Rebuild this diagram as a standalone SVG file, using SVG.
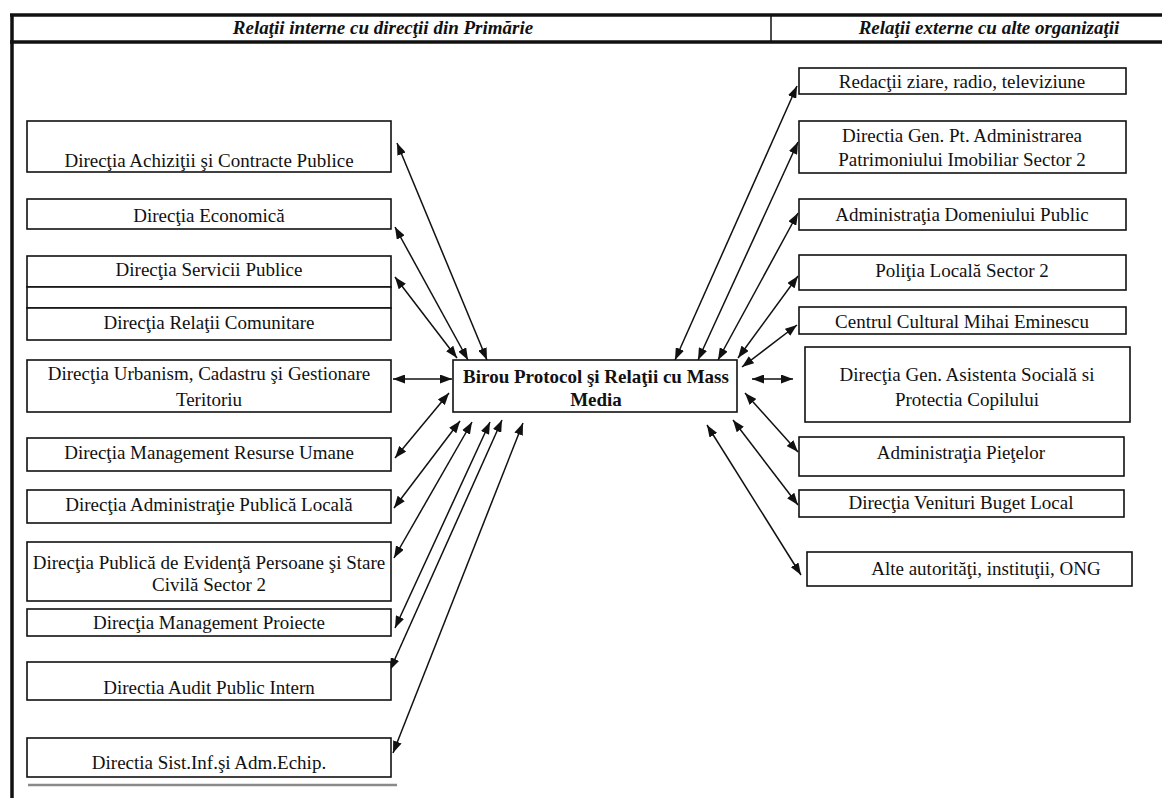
<svg xmlns="http://www.w3.org/2000/svg" width="1162" height="798" viewBox="0 0 1162 798">
<style>
.box{fill:#fff;stroke:#111;stroke-width:1.6}
.t{font-family:"Liberation Serif","Times New Roman",serif;font-size:19px;fill:#111;text-anchor:middle}
.c{font-family:"Liberation Serif","Times New Roman",serif;font-size:19px;font-weight:bold;fill:#111;text-anchor:middle}
.h{font-family:"Liberation Serif","Times New Roman",serif;font-size:19px;font-weight:bold;font-style:italic;fill:#111;text-anchor:middle}
.frame{stroke:#111;fill:none}
.arr{stroke:#111;stroke-width:1.5;fill:none;marker-start:url(#ah);marker-end:url(#ah)}
</style>
<defs>
<marker id="ah" markerUnits="userSpaceOnUse" markerWidth="13" markerHeight="9" refX="12" refY="4.5" orient="auto-start-reverse">
<path d="M0,0 L12,4.5 L0,9 z" fill="#111"/>
</marker>
</defs>
<rect width="1162" height="798" fill="#fff"/>
<g id="frame">
<line class="frame" x1="10" y1="15" x2="1162" y2="15" stroke-width="3.5"/>
<line class="frame" x1="10" y1="42" x2="1162" y2="42" stroke-width="3.5"/>
<line class="frame" x1="12" y1="14" x2="12" y2="798" stroke-width="3.5"/>
<line class="frame" x1="771" y1="15" x2="771" y2="42" stroke-width="1.5"/>
<line x1="28" y1="785" x2="397" y2="785" stroke="#8a8a8a" stroke-width="2.5"/>
<text class="h" x="383" y="34">Relaţii interne cu direcţii din Primărie</text>
<text class="h" x="989" y="34">Relaţii externe cu alte organizaţii</text>
</g>
<g id="connectors">
<line class="arr" x1="487" y1="360" x2="397" y2="143"/>
<line class="arr" x1="468" y1="360" x2="395" y2="227"/>
<line class="arr" x1="457" y1="358" x2="395" y2="277"/>
<line class="arr" x1="452" y1="379" x2="393" y2="379"/>
<line class="arr" x1="449" y1="393" x2="395" y2="458"/>
<line class="arr" x1="460" y1="421" x2="394" y2="508"/>
<line class="arr" x1="472" y1="422" x2="394" y2="558"/>
<line class="arr" x1="490" y1="422" x2="395" y2="628"/>
<line class="arr" x1="502" y1="420" x2="390" y2="670"/>
<line class="arr" x1="523" y1="423" x2="393" y2="753"/>
<line class="arr" x1="675" y1="360" x2="797" y2="86"/>
<line class="arr" x1="698" y1="360" x2="798" y2="142"/>
<line class="arr" x1="718" y1="360" x2="798" y2="213"/>
<line class="arr" x1="738" y1="358" x2="798" y2="276"/>
<line class="arr" x1="742" y1="367" x2="797" y2="325"/>
<line class="arr" x1="752" y1="379" x2="793" y2="379"/>
<line class="arr" x1="745" y1="393" x2="798" y2="452"/>
<line class="arr" x1="733" y1="420" x2="798" y2="505"/>
<line class="arr" x1="707" y1="425" x2="801" y2="575"/>
</g>
<g id="center">
<rect class="box" x="453" y="360" width="284" height="52"/>
<text class="c" x="596" y="383">Birou Protocol şi Relaţii cu Mass</text>
<text class="c" x="596" y="406">Media</text>
</g>
<g id="achizitii"><rect class="box" x="27" y="121" width="364" height="51"/><text class="t" x="209" y="167">Direcţia Achiziţii şi Contracte Publice</text></g>
<g id="economica"><rect class="box" x="27" y="199" width="364" height="30"/><text class="t" x="209" y="222">Direcţia Economică</text></g>
<g id="servicii"><rect class="box" x="27" y="256" width="364" height="31"/><text class="t" x="209" y="276">Direcţia Servicii Publice</text></g>
<g id="spacer"><rect class="box" x="27" y="287" width="364" height="21"/></g>
<g id="relatii"><rect class="box" x="27" y="308" width="364" height="32"/><text class="t" x="209" y="329">Direcţia Relaţii Comunitare</text></g>
<g id="urbanism"><rect class="box" x="27" y="360" width="364" height="52"/><text class="t" x="209" y="380">Direcţia Urbanism, Cadastru şi Gestionare</text><text class="t" x="209" y="406">Teritoriu</text></g>
<g id="resurse"><rect class="box" x="27" y="438" width="364" height="33"/><text class="t" x="209" y="459">Direcţia Management Resurse Umane</text></g>
<g id="admin"><rect class="box" x="27" y="490" width="364" height="33"/><text class="t" x="209" y="511">Direcţia Administraţie Publică Locală</text></g>
<g id="evidenta"><rect class="box" x="27" y="542" width="364" height="59"/><text class="t" x="209" y="569">Direcţia Publică de Evidenţă Persoane şi Stare</text><text class="t" x="209" y="591">Civilă Sector 2</text></g>
<g id="proiecte"><rect class="box" x="27" y="609" width="364" height="27"/><text class="t" x="209" y="629">Direcţia Management Proiecte</text></g>
<g id="audit"><rect class="box" x="27" y="662" width="364" height="38"/><text class="t" x="209" y="694">Directia Audit Public Intern</text></g>
<g id="sistinf"><rect class="box" x="27" y="738" width="364" height="39"/><text class="t" x="209" y="769">Directia Sist.Inf.şi Adm.Echip.</text></g>
<g id="redactii"><rect class="box" x="799" y="68" width="327" height="26"/><text class="t" x="962" y="88">Redacţii ziare, radio, televiziune</text></g>
<g id="dgapi"><rect class="box" x="799" y="121" width="327" height="52"/><text class="t" x="962" y="142">Directia Gen. Pt. Administrarea</text><text class="t" x="962" y="166">Patrimoniului Imobiliar Sector 2</text></g>
<g id="adp"><rect class="box" x="799" y="199" width="327" height="31"/><text class="t" x="962" y="221">Administraţia Domeniului Public</text></g>
<g id="politia"><rect class="box" x="799" y="255" width="327" height="35"/><text class="t" x="962" y="277">Poliţia Locală Sector 2</text></g>
<g id="centrul"><rect class="box" x="799" y="307" width="327" height="27"/><text class="t" x="962" y="328">Centrul Cultural Mihai Eminescu</text></g>
<g id="asistenta"><rect class="box" x="805" y="347" width="325" height="75"/><text class="t" x="967" y="381">Direcţia Gen. Asistenta Socială si</text><text class="t" x="967" y="406">Protectia Copilului</text></g>
<g id="pietelor"><rect class="box" x="799" y="437" width="325" height="39"/><text class="t" x="961" y="459">Administraţia Pieţelor</text></g>
<g id="venituri"><rect class="box" x="799" y="490" width="325" height="27"/><text class="t" x="961" y="509">Direcţia Venituri Buget Local</text></g>
<g id="alte"><rect class="box" x="807" y="552" width="325" height="34"/><text class="t" x="986" y="575">Alte autorităţi, instituţii, ONG</text></g>
</svg>
